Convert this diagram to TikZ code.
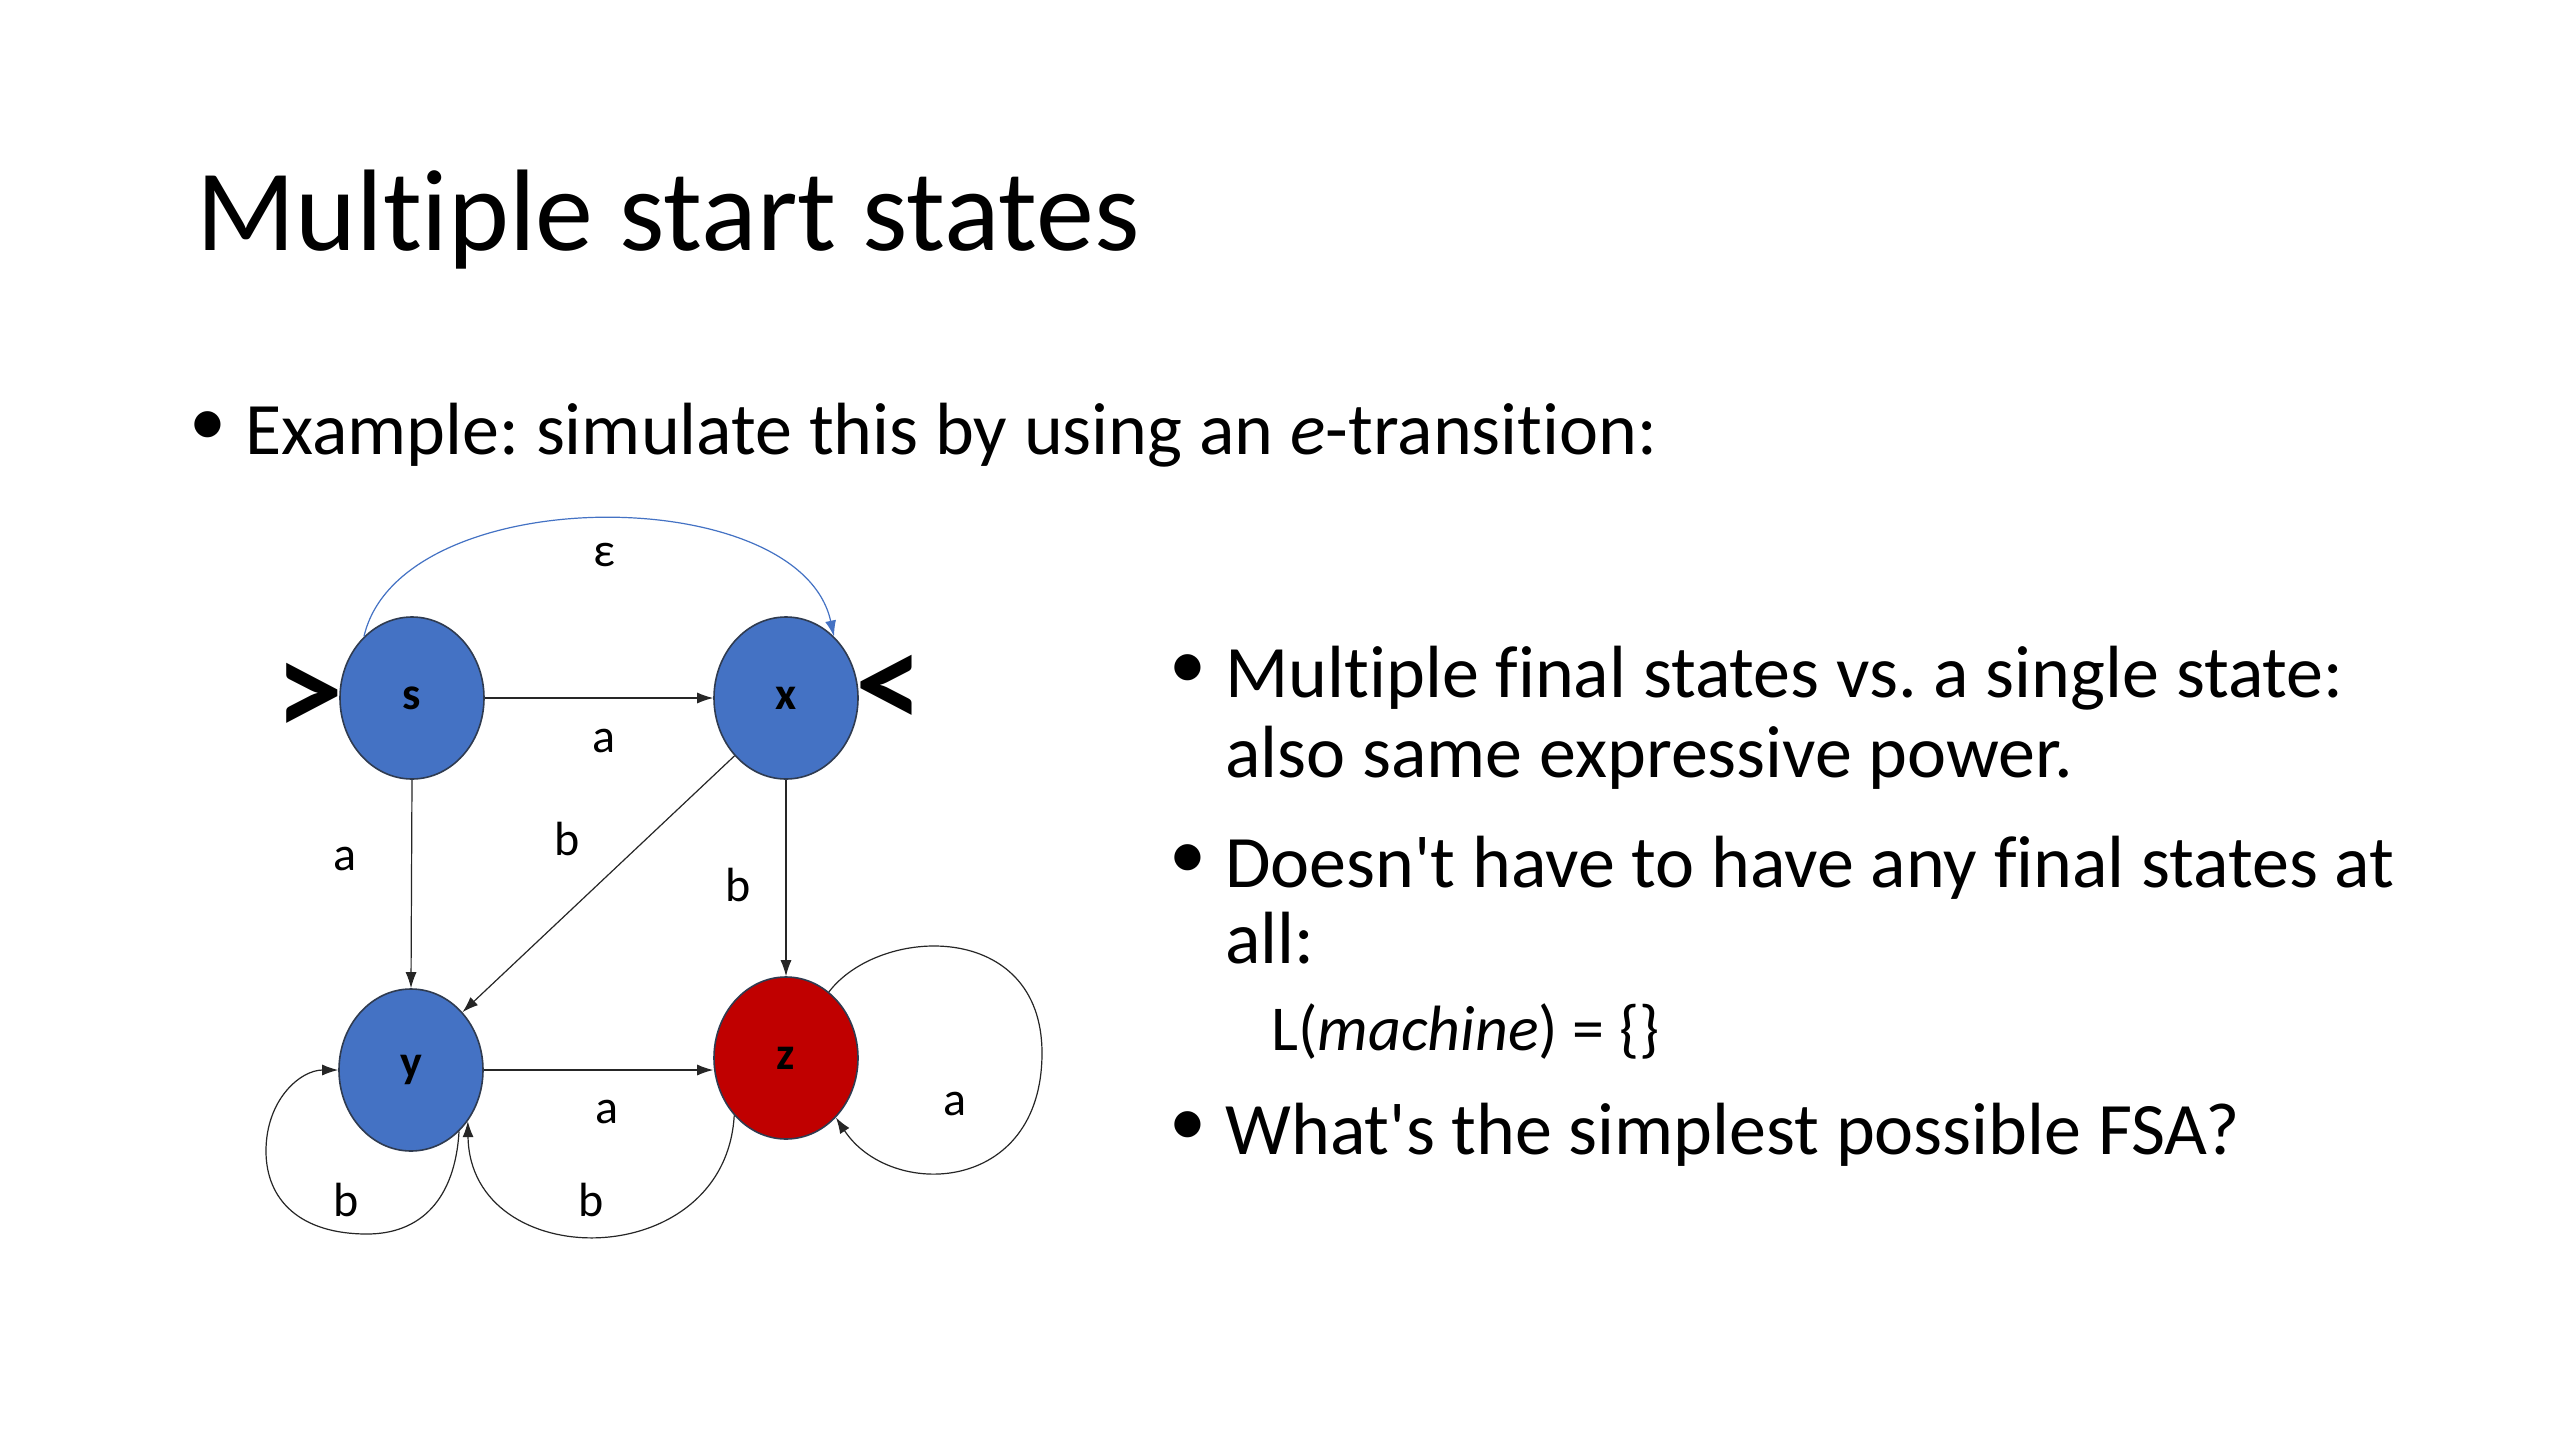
\documentclass[tikz,border=0pt]{standalone}
\usepackage{fontspec}
\setmainfont{Carlito}[Ligatures={TeXOff,CommonOff}]
\usetikzlibrary{shapes.geometric,arrows.meta}
\definecolor{stblue}{HTML}{4472C4}
\definecolor{stred}{HTML}{C00000}
\definecolor{stline}{HTML}{2F3B50}
\frenchspacing
\begin{document}
\begin{tikzpicture}[x=0.5pt,y=-0.5pt,
  state/.style={ellipse, draw=stline, line width=0.8pt, minimum width=72pt, minimum height=81pt, inner sep=0pt, font=\fontsize{23}{28}\selectfont\bfseries},
  edge/.style={draw=black!85, line width=0.6pt, -{Latex[length=8pt,width=5.5pt]}},
  lbl/.style={font=\fontsize{24}{28}\selectfont, inner sep=0pt},
  body/.style={anchor=base west, inner sep=0pt, font=\fontsize{37}{44}\selectfont},
  bul/.style={anchor=base, inner sep=0pt, font=\fontsize{37}{44}\selectfont},
  startmark/.style={inner sep=0pt, font=\fontsize{68}{74}\selectfont\bfseries}]
\useasboundingbox[fill=white] (0,0) rectangle (2560,1440);

% title and text
\node[anchor=base west, inner sep=0pt, font=\fontsize{58}{68}\selectfont] (title) at (196,250) {Multiple start states};
\node[bul] (b1) at (208,445) {•};
\node[body] (t1) at (245,454) {Example: simulate this by using an \textit{e}-transition:};

\node[bul] (b2) at (1188,688) {•};
\node[body] (t2a) at (1225,697) {Multiple final states vs. a single state:};
\node[body] (t2b) at (1225,777) {also same expressive power.};
\node[bul] (b3) at (1188,878) {•};
\node[body] (t3a) at (1225,887) {Doesn't have to have any final states at};
\node[body] (t3b) at (1225,963) {all:};
\node[body, font=\fontsize{32}{38}\selectfont] (t3c) at (1271,1050) {L(\textit{machine}) = \{\}};
\node[bul] (b4) at (1188,1145) {•};
\node[body] (t4) at (1225,1154) {What's the simplest possible FSA?};

% states
\node[state, fill=stblue] (s) at (412,698) {s};
\node[state, fill=stblue] (x) at (786,698) {x};
\node[state, fill=stblue] (y) at (411,1070) {y};
\node[state, fill=stred] (z) at (786,1058) {z};

\node[startmark] (ms) at (309,700) {>};
\node[startmark] (mx) at (889,692) {<};

% edges
\draw[edge] (s.east) -- (x.west);
\draw[edge] (s.south) -- (y.north);
\draw[edge] (x.south) -- (z.north);
\draw[edge] (x.south west) -- (y.north east);
\draw[edge] (y.east) -- (z.west |- y.east);
\draw[edge] (z.228) .. controls (725,1275) and (470,1275) .. (y.318);
\draw[edge] (y.308) .. controls (455,1200) and (420,1234) .. (367,1234)
  .. controls (300,1234) and (266,1200) .. (266,1151)
  .. controls (266,1100) and (300,1070) .. (y.west);
\draw[edge] (z.57) .. controls (880,925) and (1042,920) .. (1042,1053)
  .. controls (1042,1195) and (890,1200) .. (z.310);
\draw[draw=stblue, line width=0.6pt, -{Latex[length=8pt,width=5.5pt]}] (s.128) .. controls (400,480) and (800,480) .. (x.52);

% labels
\node[lbl] (le) at (604,555) {ε};
\node[lbl] (l1) at (604,741) {a};
\node[lbl] (l2) at (345,859) {a};
\node[lbl] (l3) at (567,839) {b};
\node[lbl] (l4) at (738,885) {b};
\node[lbl] (l5) at (607,1112) {a};
\node[lbl] (l6) at (346,1200) {b};
\node[lbl] (l7) at (591,1200) {b};
\node[lbl] (l8) at (955,1104) {a};
\end{tikzpicture}
\end{document}
